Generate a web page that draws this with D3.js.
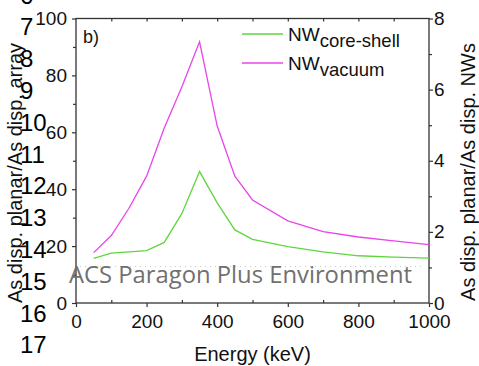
<!DOCTYPE html>
<html>
<head>
<meta charset="utf-8">
<script src="https://cdn.jsdelivr.net/npm/d3@7"></script>
<style>
  body { margin: 0; background: #fff; }
  svg { display: block; font-family: "Liberation Sans", Arial, sans-serif; }
</style>
</head>
<body>
<div id="myPlot"></div>
<script>
const energy = [50, 100, 150, 200, 250, 300, 350, 400, 450, 500, 600, 700, 800, 900, 1000]
const vacuum = [17.7, 23.7, 33.3, 44.6, 61.5, 76.0, 91.8, 62.2, 44.6, 36.2, 28.9, 25.1, 23.2, 21.8, 20.5]
const coreShellEnergy = [50, 100, 200, 250, 300, 350, 400, 450, 500, 600, 700, 800, 900, 1000]
const coreShell = [15.7, 17.5, 18.4, 21.3, 31.5, 46.2, 35.2, 25.7, 22.4, 19.8, 18.0, 16.6, 16.1, 15.8]
const xTicks = [0, 200, 400, 600, 800, 1000]
const leftTicks = [0, 20, 40, 60, 80, 100]
const rightTicks = [0, 2, 4, 6, 8]
const lineNumbers = [6, 7, 8, 9, 10, 11, 12, 13, 14, 15, 16, 17]

const W = 479, H = 366
const margin = {top: 18.5, right: 50, bottom: 63, left: 76}
const green = "#5fd63e"
const magenta = "#e845ea"
const axisColor = "#333"

const svg = d3.select("#myPlot").append("svg")
    .attr("width", W)
    .attr("height", H)

const x = d3.scaleLinear().domain([0, 1000]).range([margin.left, W - margin.right])
const yLeft = d3.scaleLinear().domain([0, 100]).range([H - margin.bottom, margin.top])
const yRight = d3.scaleLinear().domain([0, 8]).range([H - margin.bottom, margin.top])

const x0 = x.range()[0], x1 = x.range()[1]
const y0 = yLeft.range()[0], y1 = yLeft.range()[1]

// frame
svg.append("rect")
    .attr("x", x0).attr("y", y1)
    .attr("width", x1 - x0).attr("height", y0 - y1)
    .attr("fill", "none")
    .attr("stroke", axisColor)
    .attr("stroke-width", 1.3)

function styleAxis(g, fontSize) {
    g.select(".domain").remove()
    g.selectAll(".tick line").attr("stroke", axisColor).attr("stroke-width", 1.2)
    g.selectAll(".tick text")
        .attr("fill", "#111")
        .attr("font-size", fontSize)
        .attr("font-family", "Liberation Sans, Arial, sans-serif")
}

// bottom axis
svg.append("g")
    .attr("transform", `translate(0, ${y0})`)
    .call(d3.axisBottom(x).tickValues(xTicks).tickSize(4).tickPadding(8).tickFormat(d3.format("d")))
    .call(g => styleAxis(g, 19))
svg.append("g")
    .attr("transform", `translate(0, ${y0})`)
    .call(d3.axisBottom(x).tickValues(d3.range(100, 1000, 200)).tickSize(-3).tickFormat(""))
    .call(g => styleAxis(g, 19))

// top axis, minor marks only
svg.append("g")
    .attr("transform", `translate(0, ${y1})`)
    .call(d3.axisTop(x).tickValues(d3.range(100, 1000, 100)).tickSize(-3).tickFormat(""))
    .call(g => styleAxis(g, 19))

// left axis
svg.append("g")
    .attr("transform", `translate(${x0}, 0)`)
    .call(d3.axisLeft(yLeft).tickValues(leftTicks).tickSize(4).tickPadding(5))
    .call(g => styleAxis(g, 19))
svg.append("g")
    .attr("transform", `translate(${x0}, 0)`)
    .call(d3.axisLeft(yLeft).tickValues(d3.range(10, 100, 20)).tickSize(3).tickFormat(""))
    .call(g => styleAxis(g, 19))

// right axis
svg.append("g")
    .attr("transform", `translate(${x1}, 0)`)
    .call(d3.axisRight(yRight).tickValues(rightTicks).tickSize(4).tickPadding(1))
    .call(g => styleAxis(g, 19))
svg.append("g")
    .attr("transform", `translate(${x1}, 0)`)
    .call(d3.axisRight(yRight).tickValues(d3.range(1, 8, 2)).tickSize(3).tickFormat(""))
    .call(g => styleAxis(g, 19))

// series
const line = d3.line()
    .x(d => x(d[0]))
    .y(d => yLeft(d[1]))

svg.append("path")
    .datum(d3.zip(coreShellEnergy, coreShell))
    .attr("d", line)
    .attr("fill", "none")
    .attr("stroke", green)
    .attr("stroke-width", 1.3)

svg.append("path")
    .datum(d3.zip(energy, vacuum))
    .attr("d", line)
    .attr("fill", "none")
    .attr("stroke", magenta)
    .attr("stroke-width", 1.3)

// panel label
svg.append("text")
    .attr("x", 83).attr("y", 43)
    .attr("font-size", 18)
    .attr("fill", "#111")
    .text("b)")

// legend
const legend = [
    {name: "core-shell", color: green, y: 34},
    {name: "vacuum", color: magenta, y: 63}
]
legend.forEach(item => {
    svg.append("line")
        .attr("x1", 242).attr("x2", 283)
        .attr("y1", item.y).attr("y2", item.y)
        .attr("stroke", item.color)
        .attr("stroke-width", 1.3)
    const t = svg.append("text")
        .attr("x", 288).attr("y", item.y + 6.5)
        .attr("font-size", 19)
        .attr("fill", "#111")
    t.append("tspan").text("NW")
    t.append("tspan").attr("dy", 6.5).attr("font-size", 18.5).text(item.name)
})

// axis titles
svg.append("text")
    .attr("x", (x0 + x1) / 2).attr("y", 361)
    .attr("text-anchor", "middle")
    .attr("font-size", 20)
    .attr("fill", "#111")
    .text("Energy (keV)")

svg.append("text")
    .attr("transform", `translate(22, 173) rotate(-90)`)
    .attr("text-anchor", "middle")
    .attr("font-size", 20)
    .attr("fill", "#111")
    .text("As disp. planar/As disp. array")

svg.append("text")
    .attr("transform", `translate(475, 172) rotate(-90)`)
    .attr("text-anchor", "middle")
    .attr("font-size", 20)
    .attr("fill", "#111")
    .text("As disp. planar/As disp. NWs")

// manuscript line numbers
svg.selectAll(".lineno")
    .data(lineNumbers)
    .enter().append("text")
    .attr("class", "lineno")
    .attr("x", 20)
    .attr("y", d => 35.3 + (d - 7) * 31.8)
    .attr("font-size", 24)
    .attr("fill", "#000")
    .text(d => d)

// watermark
svg.append("line")
    .attr("x1", 80).attr("x2", 425)
    .attr("y1", 266.5).attr("y2", 266.5)
    .attr("stroke", "#c8c8c8")
    .attr("stroke-width", 1)
    .attr("stroke-dasharray", "1,4")

svg.append("text")
    .attr("x", 69).attr("y", 283)
    .attr("font-family", "Open Sans, sans-serif")
    .attr("font-size", 23)
    .attr("fill", "#707070")
    .attr("textLength", 343)
    .attr("lengthAdjust", "spacingAndGlyphs")
    .text("ACS Paragon Plus Environment")
</script>
</body>
</html>
